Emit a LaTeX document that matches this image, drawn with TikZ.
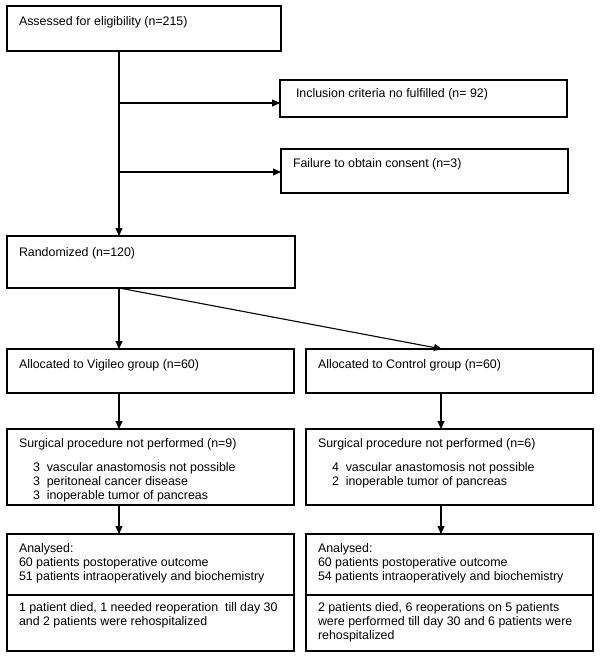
\documentclass[tikz,border=0pt]{standalone}
\usepackage{fontspec}
\setmainfont{Liberation Sans}
\usetikzlibrary{arrows.meta,calc}
\newcommand{\mlines}[1]{\begin{tabular}[t]{@{}l@{}}#1\end{tabular}}
\begin{document}
\begin{tikzpicture}[x=1pt,y=-1pt,
  box/.style={draw, rectangle, line width=1.1pt, inner sep=0pt, outer sep=0pt, anchor=north west},
  lbl/.style={anchor=base west, inner sep=0pt, outer sep=0pt, font=\fontsize{12.4}{14}\selectfont},
  arr/.style={line width=1.1pt, -{Triangle[length=8pt,width=7pt]}},
  ln/.style={line width=1.1pt}]
\useasboundingbox (0,0) rectangle (600,658);
% boxes
\node[box, minimum width=274pt, minimum height=45pt] (A) at (7,6) {};
\node[box, minimum width=287pt, minimum height=37pt] (I) at (280,80) {};
\node[box, minimum width=287pt, minimum height=44pt] (F) at (281,149) {};
\node[box, minimum width=288pt, minimum height=52pt] (R) at (7,236) {};
\node[box, minimum width=287pt, minimum height=44pt] (V) at (7,349) {};
\node[box, minimum width=287pt, minimum height=44pt] (C) at (306,349) {};
\node[box, minimum width=287pt, minimum height=76pt] (VS) at (7,429) {};
\node[box, minimum width=287pt, minimum height=76pt] (CS) at (306,429) {};
\node[box, minimum width=287pt, minimum height=117pt] (VA) at (7,534) {};
\node[box, minimum width=287pt, minimum height=117pt] (CA) at (306,534) {};
% dividers
\coordinate (vd1) at ($(VA.north west)+(0,61)$);
\coordinate (vd2) at ($(VA.north east)+(0,61)$);
\coordinate (cd1) at ($(CA.north west)+(0,61)$);
\coordinate (cd2) at ($(CA.north east)+(0,61)$);
\draw[ln] (vd1) -- (vd2);
\draw[ln] (cd1) -- (cd2);
% texts
\node[lbl] (tA) at ($(A.north west)+(12,20)$) {Assessed for eligibility (n=215)};
\node[lbl] (tI) at ($(I.north west)+(16,18)$) {Inclusion criteria no fulfilled (n= 92)};
\node[lbl] (tF) at ($(F.north west)+(12,18)$) {Failure to obtain consent (n=3)};
\node[lbl] (tR) at ($(R.north west)+(12,20)$) {Randomized (n=120)};
\node[lbl] (tV) at ($(V.north west)+(12,19)$) {Allocated to Vigileo group (n=60)};
\node[lbl] (tC) at ($(C.north west)+(12,19)$) {Allocated to Control group (n=60)};
\node[lbl] (tVS) at ($(VS.north west)+(12,18)$) {Surgical procedure not performed (n=9)};
\node[lbl] (tVSi) at ($(VS.north west)+(26,42)$) {\mlines{3~~vascular anastomosis not possible\\3~~peritoneal cancer disease\\3~~inoperable tumor of pancreas}};
\node[lbl] (tCS) at ($(CS.north west)+(12,18)$) {Surgical procedure not performed (n=6)};
\node[lbl] (tCSi) at ($(CS.north west)+(26,42)$) {\mlines{4~~vascular anastomosis not possible\\2~~inoperable tumor of pancreas}};
\node[lbl] (tVA) at ($(VA.north west)+(12,18)$) {\mlines{Analysed:\\60 patients postoperative outcome\\51 patients intraoperatively and biochemistry}};
\node[lbl] (tCA) at ($(CA.north west)+(12,18)$) {\mlines{Analysed:\\60 patients postoperative outcome\\54 patients intraoperatively and biochemistry}};
\node[lbl] (tVO) at ($(vd1)+(12,16)$) {\mlines{1 patient died, 1 needed reoperation~ till day 30\\and 2 patients were rehospitalized}};
\node[lbl] (tCO) at ($(cd1)+(12,16)$) {\mlines{2 patients died, 6 reoperations on 5 patients\\were performed till day 30 and 6 patients were\\rehospitalized}};
% connectors
\coordinate (tr1) at ($(A.south west)+(112,0)$);
\coordinate (tr2) at ($(R.north west)+(112,0)$);
\coordinate (iin) at ($(I.south west)+(0,-14)$);
\coordinate (fin) at ($(F.south west)+(0,-21)$);
\draw[arr] (tr1) -- (tr2);
\draw[arr] (tr1 |- iin) -- (iin);
\draw[arr] (tr1 |- fin) -- (fin);
\coordinate (rb) at ($(R.south west)+(112,0)$);
\draw[arr] (rb) -- ($(V.north west)+(112,0)$);
\draw[arr] (rb) -- ($(C.north west)+(136,0)$);
\draw[arr] ($(V.south west)+(112,0)$) -- ($(VS.north west)+(112,0)$);
\draw[arr] ($(C.south west)+(135,0)$) -- ($(CS.north west)+(135,0)$);
\draw[arr] ($(VS.south west)+(112,0)$) -- ($(VA.north west)+(112,0)$);
\draw[arr] ($(CS.south west)+(135,0)$) -- ($(CA.north west)+(135,0)$);
\end{tikzpicture}
\end{document}
